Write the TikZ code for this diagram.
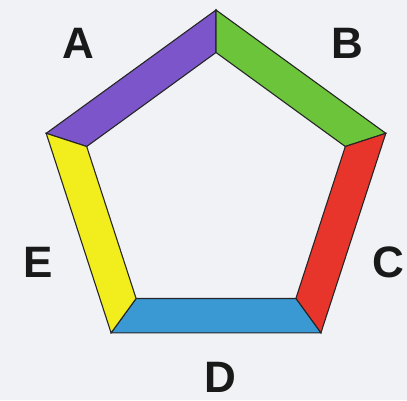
\documentclass[tikz,border=0pt]{standalone}
\usepackage{fontspec}
\setmainfont{Liberation Sans}
\definecolor{bgc}{HTML}{F1F2F6}
\definecolor{cA}{HTML}{7B55C9}
\definecolor{cB}{HTML}{6CC43A}
\definecolor{cC}{HTML}{E8352B}
\definecolor{cD}{HTML}{3A98D2}
\definecolor{cE}{HTML}{F2EE1E}
\tikzset{
  bar/.style={draw=black!85, line width=1.1pt, line join=miter},
  lbl/.style={font=\bfseries\fontsize{44}{44}\selectfont, inner sep=0pt, text=black!90}
}
\begin{document}
\begin{tikzpicture}[x=1pt,y=-1pt]
  \fill[bgc] (0,0) rectangle (407,400);
  \useasboundingbox (0,0) rectangle (407,400);
  \coordinate (o1) at (216,10);
  \coordinate (o2) at (385.8,133.3);
  \coordinate (o3) at (320.9,332.9);
  \coordinate (o4) at (111.1,332.9);
  \coordinate (o5) at (46.2,133.3);
  \coordinate (i1) at (216,52.5);
  \coordinate (i2) at (345.3,146.5);
  \coordinate (i3) at (295.9,298.5);
  \coordinate (i4) at (136.1,298.5);
  \coordinate (i5) at (86.7,146.5);
  \filldraw[bar, fill=cA] (o5) -- (o1) -- (i1) -- (i5) -- cycle;
  \filldraw[bar, fill=cB] (o1) -- (o2) -- (i2) -- (i1) -- cycle;
  \filldraw[bar, fill=cC] (o2) -- (o3) -- (i3) -- (i2) -- cycle;
  \filldraw[bar, fill=cD] (o3) -- (o4) -- (i4) -- (i3) -- cycle;
  \filldraw[bar, fill=cE] (o4) -- (o5) -- (i5) -- (i4) -- cycle;
  \node[lbl] (lA) at (78,43) {A};
  \node[lbl] (lB) at (347,43) {B};
  \node[lbl] (lC) at (388,262) {C};
  \node[lbl] (lD) at (220,377) {D};
  \node[lbl] (lE) at (38,262) {E};
\end{tikzpicture}
\end{document}
